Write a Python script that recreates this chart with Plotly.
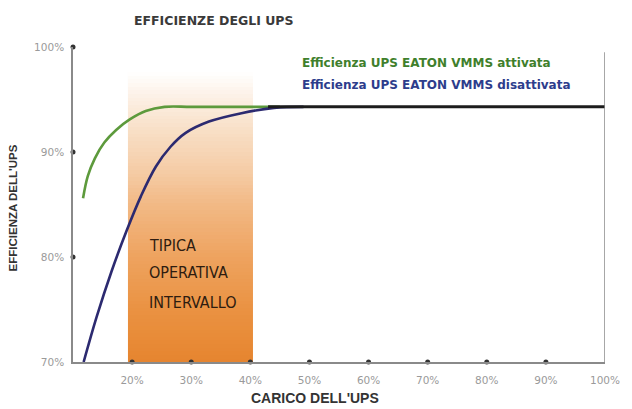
import numpy as np
import plotly.graph_objects as go

# Load (%) vs efficiency (%) curves
load_on = [11.7, 12.5, 13.7, 15.3, 17.3, 19.6, 22.3, 25.5, 30.0, 40.0, 45.0]
eff_on = [85.6, 87.7, 89.4, 90.9, 92.1, 93.1, 93.9, 94.3, 94.3, 94.3, 94.3]

load_off = [11.8, 14.0, 16.5, 19.0, 21.5, 24.0, 26.5, 29.0, 33.0, 38.5, 44.0, 49.0]
eff_off = [70.0, 74.3, 78.6, 82.4, 85.8, 88.6, 90.5, 91.8, 92.9, 93.7, 94.2, 94.3]

# Common plateau where both curves coincide
load_common = [43.0, 100.0]
eff_common = [94.3, 94.3]

# Typical operating band
band_load = [19.3, 40.4]
band_top = 97.6
band_lines = ["TIPICA", "OPERATIVA", "INTERVALLO"]
band_line_y = [81.1, 78.5, 75.7]
band_text_x = 22.6

# Axis ticks
x_ticks = [20, 30, 40, 50, 60, 70, 80, 90, 100]
x_tick_text = ["20%", "30%", "40%", "50%", "60%", "70%", "80%", "90%", "100%"]
y_ticks = [70, 80, 90, 100]
y_tick_text = ["70%", "80%", "90%", "100%"]

FONT = "Liberation Sans, Arial, sans-serif"
WIDE = "DejaVu Sans, Verdana, sans-serif"
NARROW = "Liberation Sans Narrow, DejaVu Sans Condensed, Arial Narrow, sans-serif"

fig = go.Figure()

# Gradient band (heatmap with bin edges)
n = 80
y_edges = np.linspace(70, band_top, n + 1)
y_mid = (y_edges[:-1] + y_edges[1:]) / 2
fig.add_trace(go.Heatmap(
    x=band_load, y=y_edges, z=[[v] for v in y_mid],
    zmin=70, zmax=band_top,
    colorscale=[
        [0.0, "#e6852f"],
        [0.181, "#ea9242"],
        [0.362, "#eea35f"],
        [0.543, "#f2b985"],
        [0.652, "#f5cba4"],
        [0.797, "#f8dfc6"],
        [0.906, "#fcefe3"],
        [1.0, "#ffffff"],
    ],
    showscale=False, hoverinfo="skip",
))

# Curves
fig.add_trace(go.Scatter(
    x=load_on, y=eff_on, mode="lines",
    line=dict(color="#5d9a3c", width=2.6, shape="spline", smoothing=1.0),
    hoverinfo="skip", showlegend=False,
))
fig.add_trace(go.Scatter(
    x=load_off, y=eff_off, mode="lines",
    line=dict(color="#2c2a70", width=2.6, shape="spline", smoothing=1.0),
    hoverinfo="skip", showlegend=False,
))
fig.add_trace(go.Scatter(
    x=load_common, y=eff_common, mode="lines",
    line=dict(color="#1c1c1c", width=3),
    hoverinfo="skip", showlegend=False,
))

# Tick dots on the axes
fig.add_trace(go.Scatter(
    x=x_ticks[:-1], y=[70] * (len(x_ticks) - 1), mode="markers",
    marker=dict(color="#333333", size=5), cliponaxis=False,
    hoverinfo="skip", showlegend=False,
))
fig.add_trace(go.Scatter(
    x=[10] * 3, y=y_ticks[1:], mode="markers",
    marker=dict(color="#333333", size=5), cliponaxis=False,
    hoverinfo="skip", showlegend=False,
))

# Right frame line
fig.add_shape(type="line", xref="x", yref="y", x0=100, x1=100, y0=70, y1=99.5,
              line=dict(color="#8a8a8a", width=1.5))

annotations = []
for txt, yy in zip(band_lines, band_line_y):
    annotations.append(dict(
        x=band_text_x, y=yy, xref="x", yref="y", text=txt, showarrow=False,
        xanchor="left", yanchor="middle",
        font=dict(family=NARROW, size=16, color="#2e1c10"),
    ))

annotations += [
    dict(x=(215 - 73) / 536, y=(362 - 20) / 315, xref="paper", yref="paper",
         text="<b>EFFICIENZE DEGLI UPS</b>", showarrow=False,
         xanchor="center", yanchor="middle",
         font=dict(family=WIDE, size=12.5, color="#3a3a3a")),
    dict(x=(302 - 73) / 536, y=(362 - 63) / 315, xref="paper", yref="paper",
         text="<b>Efficienza UPS EATON VMMS attivata</b>", showarrow=False,
         xanchor="left", yanchor="middle",
         font=dict(family=WIDE, size=12, color="#3f7f2c")),
    dict(x=(302 - 73) / 536, y=(362 - 85) / 315, xref="paper", yref="paper",
         text="<b>Efficienza UPS EATON VMMS disattivata</b>", showarrow=False,
         xanchor="left", yanchor="middle",
         font=dict(family=WIDE, size=12, color="#2d3d8c")),
    dict(x=(13 - 73) / 536, y=(362 - 208) / 315, xref="paper", yref="paper",
         text="<b>EFFICIENZA DELL'UPS</b>", showarrow=False, textangle=-90,
         xanchor="center", yanchor="middle",
         font=dict(family=FONT, size=11.5, color="#333333")),
    dict(x=(317 - 73) / 536, y=(362 - 398) / 315, xref="paper", yref="paper",
         text="<b>CARICO DELL'UPS</b>", showarrow=False,
         xanchor="center", yanchor="middle",
         font=dict(family=FONT, size=14, color="#333333")),
]

fig.update_layout(
    width=632, height=409,
    margin=dict(l=73, r=23, t=47, b=47),
    paper_bgcolor="white", plot_bgcolor="white",
    showlegend=False,
    annotations=annotations,
    xaxis=dict(
        range=[10, 100], showgrid=False, zeroline=False,
        showline=True, linecolor="#8a8a8a", linewidth=1.5,
        tickvals=x_ticks, ticktext=x_tick_text, ticks="",
        ticklabelstandoff=8,
        tickfont=dict(family=WIDE, size=10.5, color="#9a9a9a"),
    ),
    yaxis=dict(
        range=[70, 100], showgrid=False, zeroline=False,
        showline=True, linecolor="#8a8a8a", linewidth=1.5,
        tickvals=y_ticks, ticktext=y_tick_text, ticks="",
        ticklabelstandoff=5,
        tickfont=dict(family=WIDE, size=10.5, color="#9a9a9a"),
    ),
)

fig.write_html("out.html")
